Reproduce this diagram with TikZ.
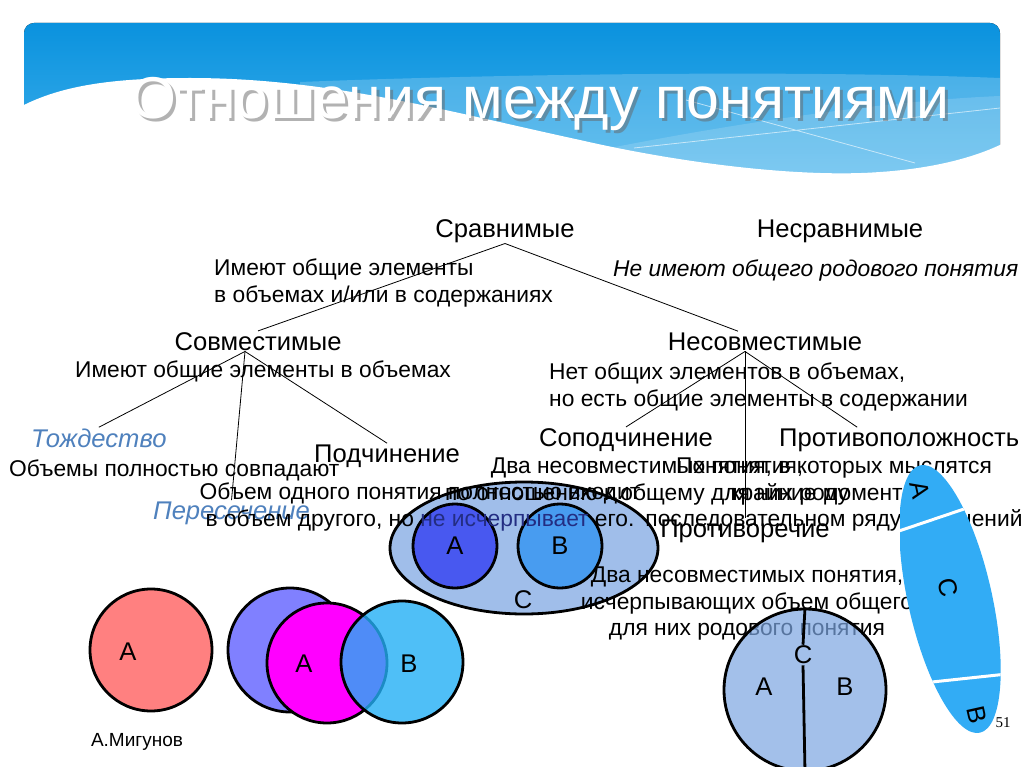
\documentclass[tikz,border=0pt]{standalone}
\usepackage{fontspec}
\setmainfont{Liberation Sans}
\newfontfamily\pagefont{Liberation Serif}
\usetikzlibrary{positioning,calc}
\definecolor{bannerTop}{RGB}{10,146,222}
\definecolor{bannerLow}{RGB}{75,183,238}
\definecolor{headBlue}{RGB}{79,129,189}
\definecolor{redA}{RGB}{255,128,128}
\definecolor{violetA}{RGB}{128,128,255}
\definecolor{pinkA}{RGB}{255,0,255}
\definecolor{cyanB}{RGB}{36,176,246}
\definecolor{paleC}{RGB}{160,190,234}
\definecolor{deepA}{RGB}{72,88,240}
\definecolor{midB}{RGB}{72,156,240}
\definecolor{halfC}{RGB}{124,166,226}
\definecolor{stripC}{RGB}{50,172,245}
\definecolor{inkBlue}{RGB}{35,45,130}

\begin{document}
\begin{tikzpicture}[x=1pt,y=-1pt,
				every node/.style={inner sep=1pt},
				kind/.style={font=\fontsize{25.6}{30}\selectfont},
				kindit/.style={font=\fontsize{25.6}{30}\selectfont\itshape,text=headBlue},
				note/.style={font=\fontsize{22.8}{26.5}\selectfont},
				link/.style={line width=0.8pt},
				ring/.style={circle,draw,line width=2.8pt,inner sep=0pt},
				letter/.style={font=\fontsize{25.6}{30}\selectfont}]
				\fill[white] (0,0) rectangle (1024,767);
				\useasboundingbox (0,0) rectangle (1024,767);
				
				\fill[rounded corners=10pt,top color=bannerTop,bottom color=bannerLow] (24,23) rectangle (1000,205);
				\fill[white,opacity=0.2] (300,82) .. controls (500,74) and (800,70) .. (1000,78) -- (1000,205) -- (300,205) -- cycle;
				\fill[white,opacity=0.15] (600,150) .. controls (750,120) and (900,100) .. (1000,96) -- (1000,205) -- (600,205) -- cycle;
				\draw[white,opacity=0.6,line width=0.8pt] (634,148) -- (1000,108) (686,100) -- (915,163);
				\fill[white] (20,107) .. controls (60,86) and (110,78) .. (190,78)
					.. controls (330,78) and (450,112) .. (580,140)
					.. controls (680,163) and (800,178) .. (880,172)
					.. controls (940,168) and (980,155) .. (1004,143) -- (1004,210) -- (20,210) -- cycle;
				\node[text=black!60,opacity=0.5,anchor=base,font=\fontsize{59}{62}\selectfont] at (543,122) {Отношения между понятиями};
				\node (title) [text=white,anchor=base,font=\fontsize{59}{62}\selectfont] at (540,119) {Отношения между понятиями};
				
				\fill[paleC,draw=black,line width=2.8pt] (524,548) ellipse [x radius=134,y radius=66];
				\node (subA) [ring,fill=deepA,minimum size=84pt] at (455,546) {};
				\node (subB) [ring,fill=midB,minimum size=84pt] at (560,546) {};
				\node (subAl) [letter] at (subA)     {A};
				\node (subBl) [letter] at (subB)     {B};
				\node (subCl) [letter] at (523,600)  {C};
				
				\node (srav)     [kind,anchor=base]       at (505,237) {Сравнимые};
				\node (nesrav)   [kind,anchor=base]       at (840,237) {Несравнимые};
				\node (sovm)     [kind,anchor=base]       at (258,350) {Совместимые};
				\node (nesovm)   [kind,anchor=base]       at (765,350) {Несовместимые};
				\node (tozh)     [kindit,anchor=base west] at (30,447) {Тождество};
				\node (peres)    [kindit,anchor=base west] at (152,519) {Пересечение};
				\node (podch)    [kind,anchor=base west]  at (313,462) {Подчинение};
				\node (sopod)    [kind,anchor=base]       at (626,446) {Соподчинение};
				\node (protivop) [kind,anchor=base west]  at (778,446) {Противоположность};
				\node (protivor) [kind,anchor=base]       at (745,537) {Противоречие};
				
				\node (nSrav)     [note,anchor=north west,align=left] at (213,258) {Имеют общие элементы\\в объемах и/или в содержаниях};
				\node (nNesrav)   [note,anchor=base west,font=\fontsize{22.8}{26.5}\selectfont\itshape] at (612,276) {Не имеют общего родового понятия};
				\node (nSovm)     [note,anchor=base]      at (263,377) {Имеют общие элементы в объемах};
				\node (nNesovm)   [note,anchor=north west,align=left] at (548,362) {Нет общих элементов в объемах,\\но есть общие элементы в содержании};
				\node (nTozh)     [note,anchor=base west] at (8,476) {Объемы полностью совпадают};
				\node (nPodch)    [note,anchor=north,align=center] at (420,482) {Объем одного понятия полностью входит\\в объем другого, но {\color{inkBlue}не исчерпывает} его.};
				\node (nSopod)    [note,anchor=north,align=center] at (647,457) {Два несовместимых понятия,\\по отношению к общему для них роду};
				\node (nProtivop) [note,anchor=north,align=center] at (834,457) {Понятия, в которых мыслятся\\крайние моменты в\\последовательном ряду изменений};
				\node (nProtivor) [note,anchor=north,align=center] at (747,566) {Два несовместимых понятия,\\исчерпывающих объем общего\\для них родового понятия};
				
				\coordinate (sovmFork)   at ([xshift=-13pt]sovm.south);
				\coordinate (nesovmFork) at ([xshift=-20pt]nesovm.south);
				\draw[link] (srav.south) -- (sovm.north);
				\draw[link] (srav.south) -- ([xshift=-27pt]nesovm.north);
				\draw[link] (sovmFork) -- (tozh.north);
				\draw[link] (sovmFork) -- (peres.north);
				\draw[link] (sovmFork) -- (podch.north);
				\draw[link] (nesovmFork) -- (sopod.north);
				\draw[link] (nesovmFork) -- (protivor.north);
				\draw[link] (nesovmFork) -- ([xshift=-42pt]protivop.north);
				
				\node (same)   [ring,fill=redA,minimum size=122pt]    at (151,650) {};
				\node (crossA) [ring,fill=violetA,minimum size=124pt] at (290,650) {};
				\node (crossM) [ring,fill=pinkA,minimum size=120pt]   at (327,663) {};
				\node (crossB) [ring,fill=cyanB,fill opacity=0.8,minimum size=122pt] at (402,662) {};
				\node (sameA)  [letter] at (128,652) {A};
				\node (crossMl)[letter] at (304,664) {A};
				\node (crossBl)[letter] at (409,664) {B};
				
				\node (whole)  [ring,fill=halfC,fill opacity=0.7,minimum size=162pt] at (805,690) {};
				\node (wholeC) [letter] at (803,655) {C};
				\node (wholeA) [letter] at (764,687) {A};
				\node (wholeB) [letter] at (845,687) {B};
				\draw[line width=2.8pt] (whole.north) -- (wholeC.north);
				\draw[line width=2.8pt] (wholeC.south) -- (whole.south);
				
				\node (page) [font=\pagefont\fontsize{15}{17}\selectfont] at (1003,723) {51};
				\begin{scope}
					\clip[rotate around={12.6:(950,599)}] (950,599) ellipse [x radius=42,y radius=137];
					\fill[stripC] (900,450) rectangle (1010,760);
					\draw[white,line width=3pt] (896,532) -- (967,508) (932,682) -- (1007,674);
				\end{scope}
				\node (stripA) [letter,rotate=-77.4] at (920,490) {A};
				\node (stripC) [letter,rotate=-77.4] at (948,588) {C};
				\node (stripB) [letter,rotate=-77.4] at (977,715) {B};
				
				\node (author) [font=\fontsize{19}{22}\selectfont] at (137,742) {А.Мигунов};
			\end{tikzpicture}
\end{document}
